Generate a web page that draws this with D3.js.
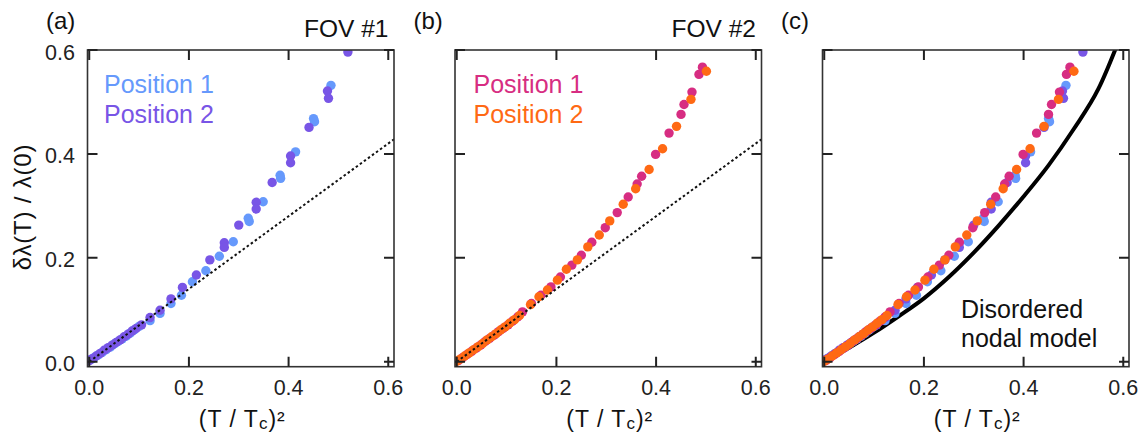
<!DOCTYPE html>
<html>
<head>
<meta charset="utf-8">
<script src="https://cdn.jsdelivr.net/npm/d3@7"></script>
<style>
  body { margin: 0; background: #fff; }
  svg { display: block; font-family: "Liberation Sans", Arial, Helvetica, sans-serif; }
</style>
</head>
<body>
<div id="vis"></div>
<script>
// tick values
var xTicks = [0, 0.2, 0.4, 0.6];
var yTicks = [0, 0.2, 0.4, 0.6];

// FOV #1 : [ (T/Tc)^2 , dlambda/lambda(0) ]
var fov1Pos1 = [[0.003,0.004],[0.010,0.008],[0.018,0.013],[0.026,0.018],[0.034,0.023],[0.042,0.028],
  [0.050,0.034],[0.058,0.039],[0.066,0.044],[0.074,0.049],[0.082,0.055],[0.090,0.061],[0.100,0.068],
  [0.122,0.079],[0.142,0.093],[0.164,0.112],[0.185,0.128],[0.207,0.154],[0.234,0.175],[0.261,0.203],
  [0.289,0.231],[0.319,0.276],[0.321,0.270],[0.349,0.308],[0.383,0.359],[0.384,0.353],[0.414,0.404],
  [0.450,0.468],[0.452,0.462],[0.485,0.532]];
var fov1Pos2 = [[0.000,0.002],[0.006,0.006],[0.014,0.011],[0.022,0.016],[0.030,0.022],[0.038,0.027],
  [0.046,0.032],[0.054,0.037],[0.062,0.042],[0.070,0.048],[0.078,0.053],[0.086,0.059],[0.094,0.064],
  [0.105,0.071],[0.122,0.085],[0.142,0.099],[0.164,0.121],[0.187,0.143],[0.215,0.167],[0.242,0.196],
  [0.271,0.229],[0.271,0.220],[0.300,0.263],[0.335,0.307],[0.335,0.294],[0.367,0.345],[0.404,0.396],
  [0.404,0.383],[0.441,0.451],[0.478,0.521],[0.480,0.507],[0.519,0.596]];

// FOV #2
var fov2Pos1 = [[0.003,0.002],[0.012,0.008],[0.021,0.014],[0.030,0.020],[0.039,0.026],[0.048,0.032],
  [0.057,0.039],[0.066,0.045],[0.075,0.051],[0.084,0.058],[0.093,0.064],[0.103,0.071],[0.112,0.078],
  [0.122,0.086],[0.132,0.096],[0.150,0.112],[0.169,0.128],[0.189,0.144],[0.208,0.163],[0.231,0.186],
  [0.250,0.205],[0.271,0.230],[0.298,0.258],[0.322,0.287],[0.344,0.317],[0.362,0.342],[0.371,0.357],
  [0.399,0.399],[0.426,0.440],[0.450,0.476],[0.456,0.495],[0.472,0.519],[0.486,0.553],[0.493,0.567]];
var fov2Pos2 = [[0.000,0.001],[0.007,0.005],[0.016,0.011],[0.025,0.017],[0.034,0.023],[0.043,0.029],
  [0.052,0.035],[0.061,0.042],[0.070,0.048],[0.079,0.054],[0.088,0.061],[0.097,0.067],[0.106,0.074],
  [0.116,0.081],[0.126,0.089],[0.148,0.110],[0.165,0.125],[0.182,0.138],[0.202,0.157],[0.220,0.178],
  [0.242,0.196],[0.263,0.221],[0.286,0.244],[0.307,0.271],[0.334,0.303],[0.359,0.333],[0.386,0.370],
  [0.413,0.410],[0.441,0.453],[0.470,0.505],[0.501,0.559]];

// low-T linear guide (dotted)
var fitX = [0, 0.62];
var fitY = [0, 0.434];

// disordered nodal model (solid black)
var modelX = [0, 0.05, 0.10, 0.15, 0.20, 0.25, 0.30, 0.35, 0.40, 0.45, 0.50, 0.55, 0.60];
var modelY = [0, 0.027, 0.056, 0.088, 0.122, 0.163, 0.210, 0.262, 0.318, 0.378, 0.447, 0.525, 0.640];

var colors = {
  fov1Pos1: "#6699fc", fov1Pos2: "#7855e6",
  fov2Pos1: "#d72d82", fov2Pos2: "#ff6914"
};

var width = 1148, height = 436;
var panelLeft = [87.5, 455, 822.5];
var plotTop = 50, pw = 306.5, ph = 316.7;

var x = d3.scaleLinear().domain([-0.0035, 0.6115]).range([0, pw]);
var y = d3.scaleLinear().domain([-0.0096, 0.6]).range([ph, 0]);

var panels = [
  { letter: "(a)", title: "FOV #1", yLabels: true, fit: true, model: false,
    series: [{d: fov1Pos1, c: colors.fov1Pos1}, {d: fov1Pos2, c: colors.fov1Pos2}],
    legend: [{t: "Position 1", c: colors.fov1Pos1}, {t: "Position 2", c: colors.fov1Pos2}], legendX: 16.5 },
  { letter: "(b)", title: "FOV #2", yLabels: false, fit: true, model: false,
    series: [{d: fov2Pos1, c: colors.fov2Pos1}, {d: fov2Pos2, c: colors.fov2Pos2}],
    legend: [{t: "Position 1", c: colors.fov2Pos1}, {t: "Position 2", c: colors.fov2Pos2}], legendX: 18.5 },
  { letter: "(c)", title: "", yLabels: false, fit: false, model: true,
    series: [{d: fov1Pos1, c: colors.fov1Pos1}, {d: fov1Pos2, c: colors.fov1Pos2},
             {d: fov2Pos1, c: colors.fov2Pos1}, {d: fov2Pos2, c: colors.fov2Pos2}],
    legend: [], legendX: 0 }
];

var svg = d3.select("#vis").append("svg")
  .attr("width", width)
  .attr("height", height);

var line = d3.line().x(d => x(d[0])).y(d => y(d[1]));
var curve = d3.line().x(d => x(d[0])).y(d => y(d[1])).curve(d3.curveMonotoneX);

panels.forEach(function (p, i) {
  var g = svg.append("g").attr("transform", `translate(${panelLeft[i]},${plotTop})`);

  g.append("clipPath").attr("id", "clip" + i)
    .append("rect").attr("width", pw).attr("height", ph);

  var plot = g.append("g").attr("clip-path", `url(#clip${i})`);

  if (p.model) {
    plot.append("path")
      .datum(modelX.map((v, k) => [v, modelY[k]]))
      .attr("fill", "none")
      .attr("stroke", "#000")
      .attr("stroke-width", 4)
      .attr("d", curve);
  }

  p.series.forEach(function (s) {
    plot.append("g").selectAll("circle")
      .data(s.d)
      .join("circle")
        .attr("cx", d => x(d[0]))
        .attr("cy", d => y(d[1]))
        .attr("r", 4.7)
        .attr("fill", s.c);
  });

  if (p.fit) {
    plot.append("path")
      .datum(fitX.map((v, k) => [v, fitY[k]]))
      .attr("fill", "none")
      .attr("stroke", "#111")
      .attr("stroke-width", 2)
      .attr("stroke-dasharray", "2.5,2.5")
      .attr("d", line);
  }

  // frame
  g.append("rect")
    .attr("width", pw).attr("height", ph)
    .attr("fill", "none")
    .attr("stroke", "#333")
    .attr("stroke-width", 1.6);

  // inward ticks on all four sides
  var tk = 10;
  g.append("g").selectAll("path").data(xTicks).join("path")
    .attr("d", d => `M${x(d)},${ph}v${-tk}M${x(d)},0v${tk}`)
    .attr("stroke", "#222").attr("stroke-width", 2);
  g.append("g").selectAll("path").data(yTicks).join("path")
    .attr("d", d => `M0,${y(d)}h${tk}M${pw},${y(d)}h${-tk}`)
    .attr("stroke", "#222").attr("stroke-width", 2);

  g.append("g").selectAll("text").data(xTicks).join("text")
    .attr("x", d => x(d))
    .attr("y", ph + 28.5)
    .attr("text-anchor", "middle")
    .attr("font-size", 21.5)
    .attr("fill", "#222")
    .text(d => d3.format(".1f")(d));

  if (p.yLabels) {
    g.append("g").selectAll("text").data(yTicks).join("text")
      .attr("x", -12.5)
      .attr("y", d => y(d) + 9.5)
      .attr("text-anchor", "end")
      .attr("font-size", 21.5)
      .attr("fill", "#222")
      .text(d => d3.format(".1f")(d));
  }

  // x axis title: (T / Tc)²
  var xt = g.append("text")
    .attr("x", pw / 2 + 1.5)
    .attr("y", 376.5)
    .attr("text-anchor", "middle")
    .attr("font-size", 23)
    .attr("letter-spacing", 1)
    .attr("fill", "#111");
  xt.append("tspan").text("(T / T");
  xt.append("tspan").attr("font-size", 17).attr("dy", 2).text("c");
  xt.append("tspan").attr("dy", -2).text(")²");

  // panel letter and title
  svg.append("text")
    .attr("x", panelLeft[i] - 41.5)
    .attr("y", 28.5)
    .attr("font-size", 24)
    .attr("fill", "#111")
    .text(p.letter);

  if (p.title) {
    g.append("text")
      .attr("x", pw - 5.5)
      .attr("y", -13.3)
      .attr("text-anchor", "end")
      .attr("font-size", 24.5)
      .attr("fill", "#111")
      .text(p.title);
  }

  g.append("g").selectAll("text").data(p.legend).join("text")
    .attr("x", p.legendX)
    .attr("y", (d, k) => 43 + k * 29.7)
    .attr("font-size", 25)
    .attr("fill", d => d.c)
    .text(d => d.t);

  if (p.model) {
    g.append("text")
      .attr("font-size", 25)
      .attr("fill", "#111")
      .selectAll("tspan")
      .data(["Disordered", "nodal model"])
      .join("tspan")
        .attr("x", 138.5)
        .attr("y", (d, k) => 268 + k * 28.7)
        .text(d => d);
  }
});

// shared y axis title
svg.append("text")
  .attr("transform", "translate(30.5,207) rotate(-90)")
  .attr("text-anchor", "middle")
  .attr("font-size", 24)
  .attr("letter-spacing", 0.8)
  .attr("fill", "#111")
  .text("δλ(T) / λ(0)");
</script>
</body>
</html>
